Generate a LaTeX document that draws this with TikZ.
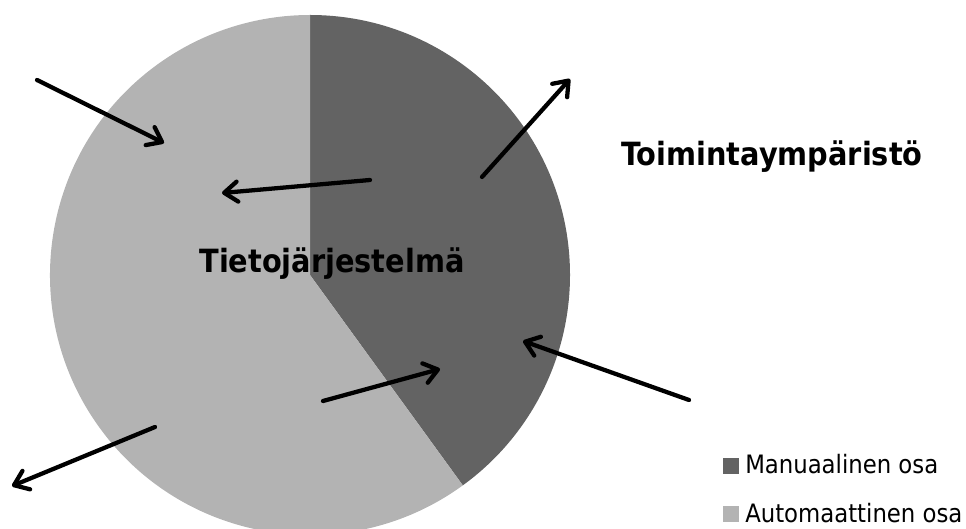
\documentclass[tikz,border=0pt]{standalone}
\usepackage{fontspec}
\setmainfont{DejaVu Sans Condensed}
\usetikzlibrary{arrows.meta,positioning}
\definecolor{manualcol}{RGB}{99,99,99}
\definecolor{autocol}{RGB}{179,179,179}

\begin{document}
\begin{tikzpicture}[
    x=0.75pt, y=0.75pt,
    arr/.style={-{Straight Barb[length=10pt, width=15pt, round]}, line width=3.2pt, line cap=round},
    title/.style={font=\fontsize{24}{28}\selectfont\bfseries, inner sep=0pt, anchor=base},
    legtext/.style={font=\fontsize{19}{23}\selectfont, inner sep=0pt, anchor=base west},
    legbox/.style={minimum size=12pt, inner sep=0pt},
]
\useasboundingbox (0,0) rectangle (966,528);
% pie
\coordinate (c) at (310,253);
\fill[manualcol] (c) -- ++(90:260) arc[start angle=90, end angle=-54, radius=260] -- cycle;
\fill[autocol] (c) -- ++(-54:260) arc[start angle=-54, end angle=-270, radius=260] -- cycle;

\node[title] (sys) at (332,255) {Tietojärjestelmä};
\node[title] (env) at (772,362) {Toimintaympäristö};

% arrow ends
\coordinate (a1s) at (37,448);  \coordinate (a1e) at (164,385);
\coordinate (a2s) at (370,348); \coordinate (a2e) at (222,335);
\coordinate (a3s) at (482,351); \coordinate (a3e) at (570,449);
\coordinate (a4s) at (323,127); \coordinate (a4e) at (440,159);
\coordinate (a5s) at (689,128); \coordinate (a5e) at (523,187);
\coordinate (a6s) at (155,101); \coordinate (a6e) at (12,42);

\draw[arr] (a1s) -- (a1e);
\draw[arr] (a2s) -- (a2e);
\draw[arr] (a3s) -- (a3e);
\draw[arr] (a4s) -- (a4e);
\draw[arr] (a5s) -- (a5e);
\draw[arr] (a6s) -- (a6e);

% legend
\node[legbox, fill=manualcol] (kman) at (731,62.5) {};
\node[legbox, fill=autocol] (kauto) at (731,14) {};
\node[legtext] (tman) at (745,55) {Manuaalinen osa};
\node[legtext] (tauto) at (745,6) {Automaattinen osa};
\end{tikzpicture}
\end{document}
